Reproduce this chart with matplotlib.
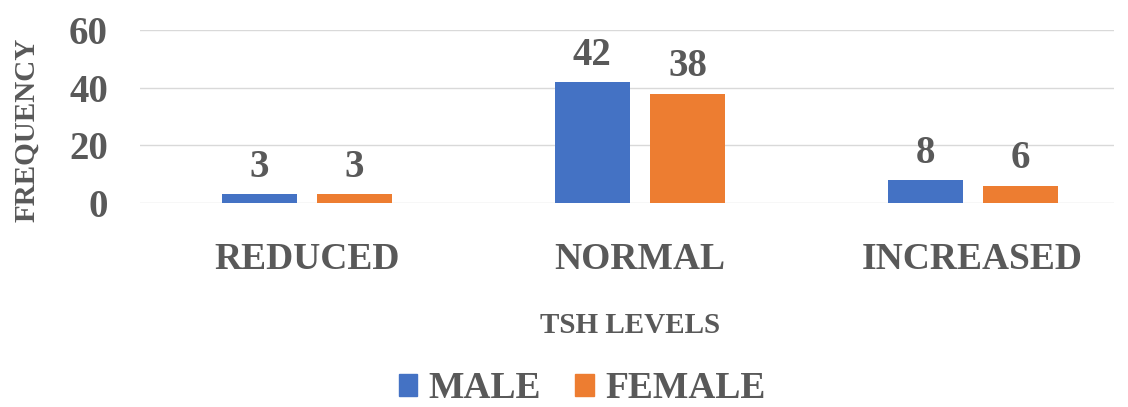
import matplotlib.pyplot as plt
import numpy as np
from matplotlib.patches import Patch

categories = ["REDUCED", "NORMAL", "INCREASED"]
male = [3, 42, 8]
female = [3, 38, 6]
y_ticks = [0, 20, 40, 60]

plt.rcParams['font.family'] = ['Liberation Serif', 'DejaVu Serif']
plt.rcParams['font.weight'] = 'bold'
text_color = "#595959"

fig = plt.figure(figsize=(11.28, 4.07), dpi=100)
ax = fig.add_axes([0.124, 0.501, 0.864, 0.425])

x = np.arange(len(categories))
w = 0.225
off = 0.143
b1 = ax.bar(x - off, male, w, color="#4472C4", label="MALE", zorder=3)
b2 = ax.bar(x + off, female, w, color="#ED7D31", label="FEMALE", zorder=3)

for bars in (b1, b2):
    for r in bars:
        ax.annotate(f"{int(r.get_height())}", (r.get_x() + r.get_width() / 2, r.get_height()),
                    xytext=(0, 6), textcoords="offset points", ha="center", va="bottom",
                    fontsize=28, fontweight="bold", color=text_color)

ax.set_xlim(-0.502, 2.426)
ax.set_ylim(0, 60)
ax.set_yticks(y_ticks)
ax.set_yticklabels([str(t) for t in y_ticks], fontsize=28, fontweight="bold", color=text_color)
ax.set_xticks(x)
ax.set_xticklabels(categories, fontsize=27, fontweight="bold", color=text_color)
ax.tick_params(axis="x", length=0, pad=28)
ax.tick_params(axis="y", length=0, pad=23)
ax.yaxis.grid(True, color="#D9D9D9", linewidth=1, zorder=0)
for s in ax.spines.values():
    s.set_visible(False)

fig.text(0.559, 0.201, "TSH LEVELS", ha="center", va="center", fontsize=21,
         fontweight="bold", color=text_color)
fig.text(0.024, 0.68, "FREQUENCY", ha="center", va="center", rotation=90, fontsize=21,
         fontweight="bold", color=text_color)

handles = [Patch(color="#4472C4"), Patch(color="#ED7D31")]
leg = fig.legend(handles, ["MALE", "FEMALE"], loc="center", bbox_to_anchor=(0.516, 0.045),
                 ncol=2, frameon=False, fontsize=27, handlelength=0.5, handleheight=0.5,
                 handletextpad=0.3, columnspacing=0.9)
for t in leg.get_texts():
    t.set_color(text_color)
    t.set_fontweight("bold")

fig.savefig("out.png", dpi=100)
